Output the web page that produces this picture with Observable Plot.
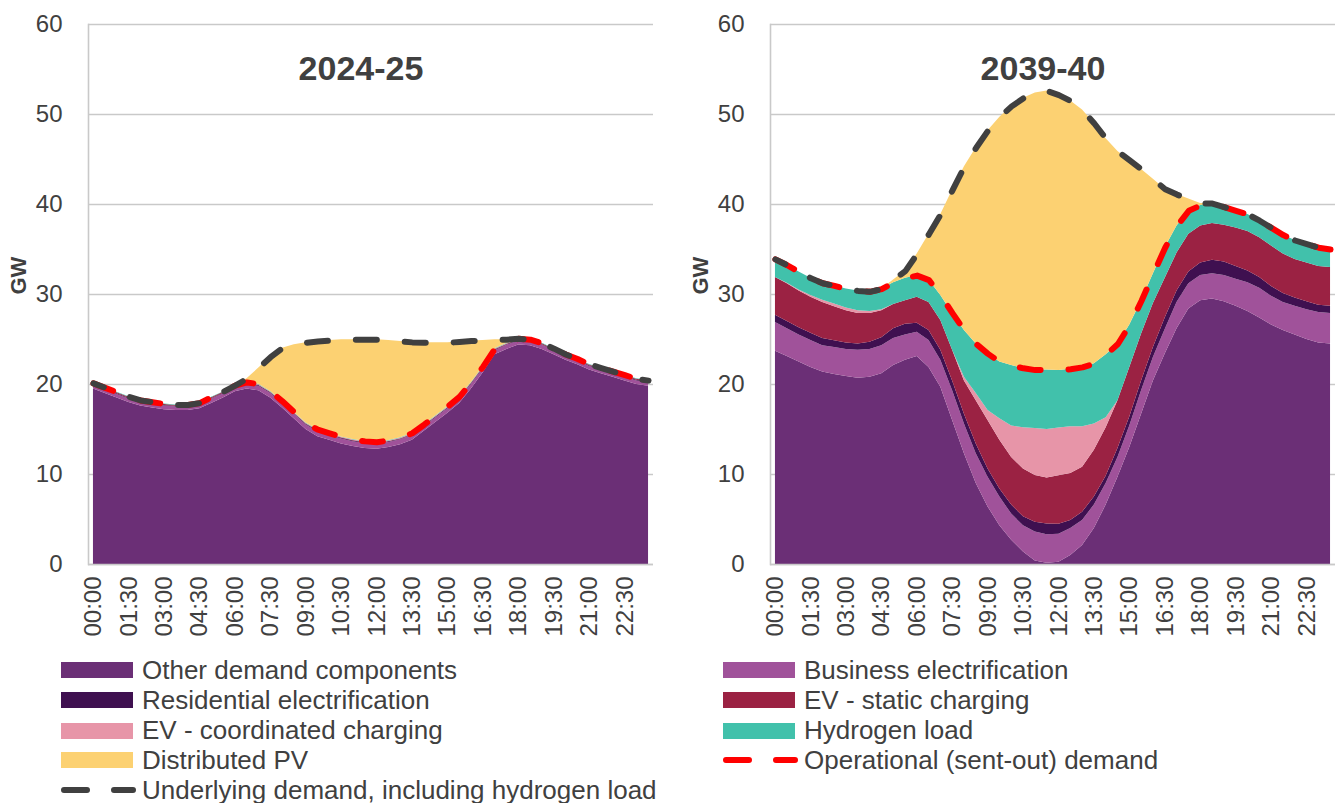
<!DOCTYPE html>
<html><head><meta charset="utf-8">
<script src="https://cdn.jsdelivr.net/npm/d3@7"></script>
<script src="https://cdn.jsdelivr.net/npm/@observablehq/plot@0.6"></script>
<style>
body{margin:0;background:#fff;width:1338px;height:803px;overflow:hidden;position:relative;font-family:"Liberation Sans",Arial,sans-serif;color:#404040}
.panel{position:absolute;top:0}
.item{position:absolute;height:30px;display:flex;align-items:center;font-size:26px;white-space:nowrap;color:#404040}
.sw{width:72px;height:16px;margin-right:9px;flex:none}
</style></head><body>
<div id="p1" class="panel" style="left:0px"></div>
<div id="p2" class="panel" style="left:682px"></div>
<div id="legend"></div>
<script>
const times = ["00:00","00:30","01:00","01:30","02:00","02:30","03:00","03:30","04:00","04:30","05:00","05:30",
"06:00","06:30","07:00","07:30","08:00","08:30","09:00","09:30","10:00","10:30","11:00","11:30",
"12:00","12:30","13:00","13:30","14:00","14:30","15:00","15:30","16:00","16:30","17:00","17:30",
"18:00","18:30","19:00","19:30","20:00","20:30","21:00","21:30","22:00","22:30","23:00","23:30"];
const tickLabels = ["00:00","01:30","03:00","04:30","06:00","07:30","09:00","10:30","12:00","13:30","15:00","16:30","18:00","19:30","21:00","22:30"];
const yTicks = [0,10,20,30,40,50,60];
const seriesNames = ["Other demand components","Business electrification","Residential electrification","EV - static charging","EV - coordinated charging","Hydrogen load","Distributed PV"];
const seriesColors = ["#6B2F76","#A0529A","#3F1050","#9B2243","#E795A8","#41C1AB","#FCD172"];
const panelTitles = ["2024-25","2039-40"];

// 2024-25 (GW)
const other24 = [19.5,19.0,18.5,18.0,17.6,17.4,17.2,17.1,17.1,17.3,17.9,18.5,19.2,19.5,19.3,18.5,17.4,16.2,15.0,14.2,13.8,13.4,13.1,12.9,12.8,13.0,13.3,13.8,14.8,15.8,16.8,17.9,19.5,21.3,23.3,23.9,24.4,24.3,23.9,23.3,22.7,22.2,21.6,21.2,20.8,20.4,20.0,19.8];
const business24 = [0.4,0.4,0.4,0.4,0.4,0.4,0.4,0.4,0.4,0.4,0.45,0.45,0.45,0.5,0.5,0.5,0.5,0.5,0.5,0.55,0.55,0.55,0.55,0.55,0.55,0.55,0.55,0.55,0.5,0.5,0.5,0.5,0.5,0.45,0.45,0.45,0.45,0.45,0.45,0.45,0.4,0.4,0.4,0.4,0.4,0.4,0.4,0.4];
const residential24 = [0.08,0.08,0.08,0.08,0.08,0.08,0.08,0.08,0.08,0.08,0.08,0.08,0.08,0.08,0.08,0.08,0.08,0.08,0.08,0.08,0.08,0.08,0.08,0.08,0.08,0.08,0.08,0.08,0.08,0.08,0.08,0.08,0.08,0.08,0.08,0.08,0.08,0.08,0.08,0.08,0.08,0.08,0.08,0.08,0.08,0.08,0.08,0.08];
const evStatic24 = [0.1,0.1,0.1,0.1,0.1,0.1,0.1,0.1,0.1,0.1,0.1,0.1,0.1,0.05,0.05,0.05,0.05,0.05,0.05,0.05,0.05,0.05,0.05,0.05,0.05,0.05,0.05,0.05,0.05,0.05,0.05,0.05,0.05,0.05,0.05,0.05,0.1,0.1,0.1,0.1,0.1,0.1,0.1,0.1,0.1,0.1,0.1,0.1];
const evCoord24 = [0,0,0,0,0,0,0,0,0,0,0,0,0,0.05,0.05,0.05,0.05,0.05,0.05,0.05,0.05,0.05,0.05,0.05,0.05,0.05,0.05,0.05,0.05,0.05,0.05,0.05,0.05,0.05,0.05,0.05,0,0,0,0,0,0,0,0,0,0,0,0];
const hydrogen24 = [0.05,0.05,0.05,0.05,0.05,0.05,0.05,0.05,0.05,0.05,0.05,0.05,0.05,0.05,0.05,0.05,0.05,0.05,0.05,0.05,0.05,0.05,0.05,0.05,0.05,0.05,0.05,0.05,0.05,0.05,0.05,0.05,0.05,0.05,0.05,0.05,0.05,0.05,0.05,0.05,0.05,0.05,0.05,0.05,0.05,0.05,0.05,0.05];
const pv24 = [0,0,0,0,0,0,0,0,0,0,0,0,0,0.4,1.8,3.8,5.9,7.5,8.9,9.8,10.3,10.8,11.1,11.3,11.4,11.1,10.7,10.1,9.1,8.1,7.1,6.1,4.6,2.9,1.0,0.4,0,0,0,0,0,0,0,0,0,0,0,0];

// 2039-40 (GW)
const other39 = [23.7,23.1,22.5,21.9,21.4,21.1,20.9,20.7,20.8,21.2,22.1,22.7,23.1,21.9,19.7,16.0,12.3,9.0,6.4,4.3,2.7,1.4,0.4,0.15,0.26,1.0,2.1,4.0,6.6,9.7,13.0,16.7,20.4,23.4,26.2,28.4,29.3,29.5,29.2,28.7,28.1,27.4,26.6,26.0,25.5,25.0,24.6,24.5];
const business39 = [3.2,3.1,3.0,3.0,2.9,3.0,3.0,3.1,3.1,3.1,3.0,2.8,2.7,3.0,3.0,3.3,3.3,3.3,3.3,3.2,2.9,2.9,3.2,3.15,3.1,3.0,2.8,2.6,2.4,2.2,2.4,2.6,2.6,2.7,2.9,2.8,2.8,2.8,2.9,3.0,3.2,3.3,3.2,3.1,3.2,3.3,3.4,3.4];
const residential39 = [0.8,0.8,0.8,0.8,0.8,0.75,0.7,0.7,0.8,0.9,1.1,1.2,1.0,1.1,1.1,1.1,1.1,1.1,0.9,0.9,1.0,1.0,1.1,1.2,1.1,0.9,0.9,0.9,0.8,1.0,1.0,1.1,1.1,1.3,1.3,1.3,1.4,1.5,1.5,1.4,1.3,1.2,1.1,1.0,0.9,0.9,0.8,0.8];
const evStatic39 = [4.2,4.2,4.1,4.0,4.0,3.8,3.6,3.4,3.2,3.0,2.7,2.6,2.9,3.1,3.3,3.4,3.7,4.8,5.4,5.4,5.3,5.3,5.2,5.1,5.4,5.2,5.0,5.2,5.4,5.3,5.5,5.2,4.9,4.4,4.2,4.2,4.1,4.1,4.1,4.3,4.4,4.4,4.5,4.4,4.3,4.3,4.3,4.3];
const evCoord39 = [0,0.05,0.1,0.2,0.25,0.3,0.3,0.3,0.2,0.1,0,0,0,0,0,0,0.4,0.8,1.1,2.4,3.5,4.6,5.2,5.4,5.3,5.2,4.5,2.9,1.1,0,0,0,0,0,0,0,0,0,0,0,0,0,0,0,0,0,0,0];
const hydrogen39 = [2.0,2.0,2.0,1.9,1.9,2.0,2.1,2.2,2.2,2.3,2.4,2.5,2.4,2.5,2.8,4.1,5.2,5.5,6.3,6.3,6.7,6.6,6.5,6.6,6.4,6.4,6.6,6.7,7.0,6.3,4.7,3.7,3.3,3.4,3.0,2.6,2.3,2.2,2.0,1.9,1.9,1.9,2.0,2.1,2.1,2.1,2.1,2.0];
const pv39 = [0,0,0,0,0,0,0,0,0,0,0.3,0.8,2.4,5.1,9.0,13.7,18.2,21.8,24.8,27.2,28.8,30.0,30.8,31.0,30.6,29.8,28.6,26.7,24.0,21.4,18.3,14.6,10.5,6.5,3.5,1.3,0.2,0,0,0,0,0,0,0,0,0,0,0];

const lineNames = ["Underlying demand, including hydrogen load","Operational (sent-out) demand"];

function panel(title, comps, width) {
  const data = [];
  seriesNames.forEach((s, k) => comps[k].forEach((v, i) => data.push({time: times[i], series: s, value: v})));
  const operational = times.map((t, i) => ({time: t, value: d3.sum(comps.slice(0, 6), c => c[i])}));
  const underlying = times.map((t, i) => ({time: t, value: d3.sum(comps, c => c[i])}));
  const grey = "#c9c9c9";
  return Plot.plot({
    width, height: 660,
    marginLeft: 88, marginRight: width - 653, marginTop: 24, marginBottom: 96,
    style: {fontFamily: '"Liberation Sans", Arial, sans-serif', color: "#404040", background: "transparent", overflow: "visible"},
    x: {type: "point", domain: times, padding: 0.42, axis: null},
    y: {domain: [0, 60], axis: null},
    color: {domain: seriesNames, range: seriesColors},
    marks: [
      Plot.ruleY(yTicks, {stroke: grey, strokeWidth: 1.6}),
      Plot.areaY(data, {x: "time", y: "value", fill: "series", order: seriesNames, curve: "linear"}),
      Plot.ruleY([0], {stroke: grey, strokeWidth: 1.6}),
      Plot.frame({anchor: "left", stroke: grey, strokeWidth: 1.6}),
      Plot.lineY(operational, {x: "time", y: "value", stroke: "#ff0000", strokeWidth: 6, strokeDasharray: "21,28", strokeLinecap: "round", strokeLinejoin: "round"}),
      Plot.lineY(underlying, {x: "time", y: "value", stroke: "#404040", strokeWidth: 6, strokeDasharray: "21,28", strokeDashoffset: 10, strokeLinecap: "round", strokeLinejoin: "round"}),
      Plot.axisY({ticks: yTicks, tickSize: 0, tickPadding: 26, fontSize: 24, label: null}),
      Plot.axisX({ticks: tickLabels, tickRotate: -90, tickSize: 0, tickPadding: 12, fontSize: 24, label: null}),
      Plot.text([title], {frameAnchor: "top", dx: -10, dy: 31, fontSize: 34, fontWeight: "bold", fill: "#404040"}),
      Plot.text(["GW"], {frameAnchor: "left", dx: -70, rotate: -90, fontSize: 22, fontWeight: "bold", fill: "#404040"})
    ]
  });
}

document.getElementById("p1").append(panel(panelTitles[0], [other24, business24, residential24, evStatic24, evCoord24, hydrogen24, pv24], 660));
document.getElementById("p2").append(panel(panelTitles[1], [other39, business39, residential39, evStatic39, evCoord39, hydrogen39, pv39], 656));

// Legend
const legendItems = [
  {name: seriesNames[0], color: seriesColors[0], col: 0, row: 0},
  {name: seriesNames[1], color: seriesColors[1], col: 1, row: 0},
  {name: seriesNames[2], color: seriesColors[2], col: 0, row: 1},
  {name: seriesNames[3], color: seriesColors[3], col: 1, row: 1},
  {name: seriesNames[4], color: seriesColors[4], col: 0, row: 2},
  {name: seriesNames[5], color: seriesColors[5], col: 1, row: 2},
  {name: seriesNames[6], color: seriesColors[6], col: 0, row: 3},
  {name: lineNames[1], line: "#ff0000", col: 1, row: 3},
  {name: lineNames[0], line: "#404040", col: 0, row: 4}
];
const colX = [61, 723];
const rowY = [670, 700, 730.5, 760, 790];
const leg = document.getElementById("legend");
for (const it of legendItems) {
  const d = document.createElement("div");
  d.className = "item";
  d.style.left = colX[it.col] + "px";
  d.style.top = (rowY[it.row] - 15) + "px";
  let sw;
  if (it.line) {
    sw = `<svg class="sw" width="72" height="16" style="overflow:visible"><line x1="0" x2="72" y1="8" y2="8" stroke="${it.line}" stroke-width="6" stroke-linecap="round" stroke-dasharray="23,27" stroke-dashoffset="-3"/></svg>`;
  } else {
    sw = `<div class="sw" style="background:${it.color}"></div>`;
  }
  d.innerHTML = sw + `<span>${it.name}</span>`;
  leg.append(d);
}
</script>
</body></html>
